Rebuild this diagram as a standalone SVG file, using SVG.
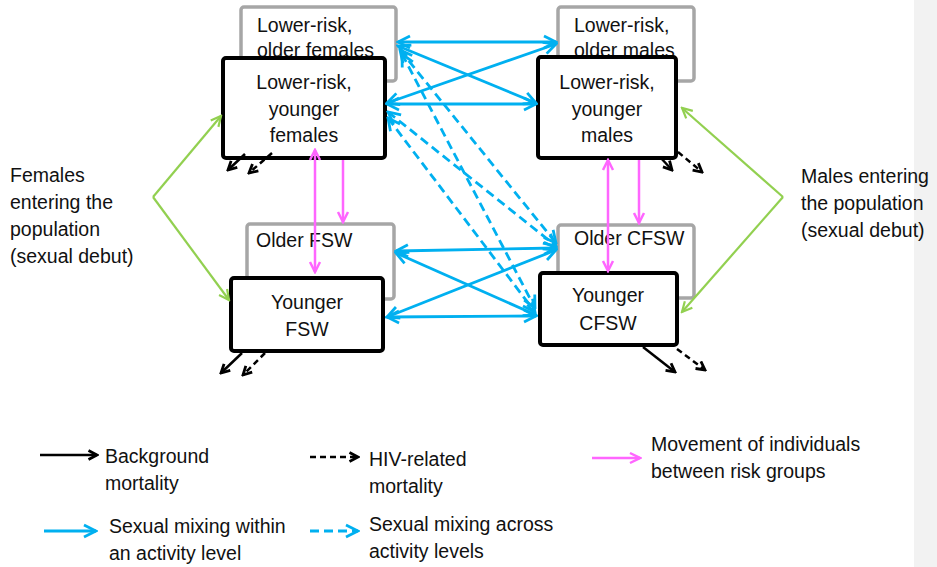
<svg xmlns="http://www.w3.org/2000/svg" width="937" height="567" viewBox="0 0 937 567">
<style>
.t{font-family:"Liberation Sans",Arial,sans-serif;font-size:19.5px;fill:#111}
.c{text-anchor:middle}
.grey{fill:#fff;stroke:#a6a6a6;stroke-width:3.5}
.blk{fill:#fff;stroke:#000;stroke-width:4}
.bl{fill:none;stroke:#00b0f0;stroke-width:2.8;marker-start:url(#mb);marker-end:url(#mb)}
.bd{stroke-dasharray:9 5}
.pk{fill:none;stroke:#ff66ff;stroke-width:2.5;marker-end:url(#mp)}
.pk2{marker-start:url(#mp)}
.gr{fill:none;stroke:#92d050;stroke-width:2.2;marker-end:url(#mg)}
.k{fill:none;stroke:#000;stroke-width:2.5;marker-end:url(#mk)}
.kd{stroke-dasharray:6 4}
</style>
<defs>
<marker id="mb" viewBox="0 0 16 16" refX="14" refY="8" markerWidth="16" markerHeight="16" markerUnits="userSpaceOnUse" orient="auto-start-reverse"><path d="M2,2 L14,8 L2,14" fill="none" stroke="#00b0f0" stroke-width="2.8"/></marker>
<marker id="mp" viewBox="0 0 14 14" refX="12" refY="7" markerWidth="14" markerHeight="14" markerUnits="userSpaceOnUse" orient="auto-start-reverse"><path d="M2,2 L12,7 L2,12" fill="none" stroke="#ff66ff" stroke-width="2.5"/></marker>
<marker id="mg" viewBox="0 0 14 14" refX="12" refY="7" markerWidth="14" markerHeight="14" markerUnits="userSpaceOnUse" orient="auto"><path d="M2,2 L12,7 L2,12" fill="none" stroke="#92d050" stroke-width="2.2"/></marker>
<marker id="mk" viewBox="0 0 12 12" refX="10" refY="6" markerWidth="12" markerHeight="12" markerUnits="userSpaceOnUse" orient="auto"><path d="M1.5,1.5 L10,6 L1.5,10.5" fill="none" stroke="#000" stroke-width="2.8"/></marker>
</defs>
<rect x="914" y="0" width="23" height="567" fill="#f2f2f2"/>

<g id="older-females">
<rect class="grey" x="241" y="7" width="155" height="74" rx="3"/>
<text class="t" x="257" y="32">Lower-risk,</text>
<text class="t" x="257" y="57">older females</text>
</g>
<g id="younger-females">
<rect class="blk" x="223" y="58" width="162" height="100" rx="3"/>
<text class="t c" x="304" y="89">Lower-risk,</text>
<text class="t c" x="304" y="116">younger</text>
<text class="t c" x="304" y="142">females</text>
</g>
<g id="older-males">
<rect class="grey" x="558" y="7" width="136" height="74" rx="3"/>
<text class="t" x="574" y="32">Lower-risk,</text>
<text class="t" x="574" y="57">older males</text>
</g>
<g id="younger-males">
<rect class="blk" x="538" y="57" width="138" height="101" rx="3"/>
<text class="t c" x="607" y="89">Lower-risk,</text>
<text class="t c" x="607" y="116">younger</text>
<text class="t c" x="607" y="142">males</text>
</g>
<g id="older-fsw">
<rect class="grey" x="247" y="224" width="147" height="75" rx="3"/>
<text class="t" x="256" y="247">Older FSW</text>
</g>
<g id="younger-fsw">
<rect class="blk" x="231" y="278" width="152" height="73" rx="3"/>
<text class="t c" x="307" y="309">Younger</text>
<text class="t c" x="307" y="336">FSW</text>
</g>
<g id="older-cfsw">
<rect class="grey" x="558" y="225" width="136" height="73" rx="3"/>
<text class="t" x="574" y="245">Older CFSW</text>
</g>
<g id="younger-cfsw">
<rect class="blk" x="540" y="273" width="137" height="72" rx="3"/>
<text class="t c" x="608" y="302">Younger</text>
<text class="t c" x="608" y="330">CFSW</text>
</g>
<g id="females-entering">
<text class="t" x="10" y="182">Females</text>
<text class="t" x="10" y="209">entering the</text>
<text class="t" x="10" y="236">population</text>
<text class="t" x="10" y="263">(sexual debut)</text>
</g>
<g id="males-entering">
<text class="t" x="801" y="183">Males entering</text>
<text class="t" x="801" y="210">the population</text>
<text class="t" x="801" y="237">(sexual debut)</text>
</g>

<g id="connectors">
<path class="bl" d="M398,42 L556,42"/>
<path class="bl" d="M398,46 L536,103"/>
<path class="bl" d="M387,103 L556,44"/>
<path class="bl" d="M387,104 L536,104"/>
<path class="bl" d="M396,251 L556,248"/>
<path class="bl" d="M396,253 L536,315"/>
<path class="bl" d="M387,317 L556,250"/>
<path class="bl" d="M387,317 L536,316"/>
<path class="bl bd" d="M400,50 L556,243"/>
<path class="bl bd" d="M402,54 L535,308"/>
<path class="bl bd" d="M388,112 L556,246"/>
<path class="bl bd" d="M388,118 L535,312"/>
<path class="pk pk2" d="M315,150 L315,272"/>
<path class="pk" d="M343,160 L343,222"/>
<path class="pk pk2" d="M608,160 L608,271"/>
<path class="pk" d="M639,160 L639,223"/>
<path class="gr" d="M153,197 L221,116"/>
<path class="gr" d="M153,197 L229,300"/>
<path class="gr" d="M783,197 L682,108"/>
<path class="gr" d="M783,197 L682,312"/>
<path class="k" d="M245,154 L228,170"/>
<path class="k kd" d="M272,153 L249,173"/>
<path class="k" d="M660,157 L672,170"/>
<path class="k kd" d="M678,152 L702,172"/>
<path class="k" d="M242,353 L221,373"/>
<path class="k kd" d="M265,353 L243,375"/>
<path class="k" d="M643,347 L675,372"/>
<path class="k kd" d="M677,349 L705,370"/>
</g>

<g id="legend">
<path class="k" d="M40,455 L97,455"/>
<text class="t" x="105" y="463">Background</text>
<text class="t" x="105" y="490">mortality</text>
<path class="k kd" d="M310,457 L358,457"/>
<text class="t" x="369" y="466">HIV-related</text>
<text class="t" x="369" y="493">mortality</text>
<path class="pk" d="M592,458 L640,458"/>
<text class="t" x="651" y="451">Movement of individuals</text>
<text class="t" x="651" y="478">between risk groups</text>
<path d="M44,531 L96,531" fill="none" stroke="#00b0f0" stroke-width="2.8" marker-end="url(#mb)"/>
<text class="t" x="109" y="533">Sexual mixing within</text>
<text class="t" x="109" y="560">an activity level</text>
<path d="M310,531 L358,531" fill="none" stroke="#00b0f0" stroke-width="2.8" stroke-dasharray="9 5" marker-end="url(#mb)"/>
<text class="t" x="369" y="531">Sexual mixing across</text>
<text class="t" x="369" y="558">activity levels</text>
</g>
</svg>
